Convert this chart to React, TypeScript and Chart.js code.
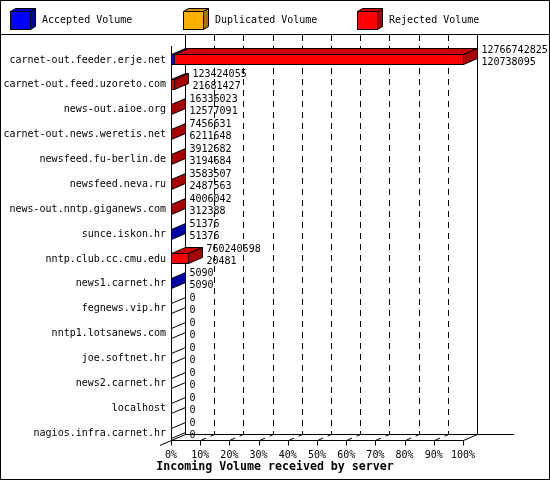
import { useEffect, useRef } from 'react';
import { Chart, registerables } from 'chart.js';

Chart.register(...registerables);

// Incoming volume per feeding server (bytes)
const servers = [
  'carnet-out.feeder.erje.net',
  'carnet-out.feed.uzoreto.com',
  'news-out.aioe.org',
  'carnet-out.news.weretis.net',
  'newsfeed.fu-berlin.de',
  'newsfeed.neva.ru',
  'news-out.nntp.giganews.com',
  'sunce.iskon.hr',
  'nntp.club.cc.cmu.edu',
  'news1.carnet.hr',
  'fegnews.vip.hr',
  'nntp1.lotsanews.com',
  'joe.softnet.hr',
  'news2.carnet.hr',
  'localhost',
  'nagios.infra.carnet.hr',
];

const totalVolume = [
  12766742825, 123424055, 16336023, 7456631, 3912682, 3583507, 4006042, 51376,
  760240698, 5090, 0, 0, 0, 0, 0, 0,
];
const acceptedVolume = [
  120738095, 21681427, 12577091, 6211648, 3194684, 2487563, 312388, 51376,
  20481, 5090, 0, 0, 0, 0, 0, 0,
];
const duplicatedVolume = [0, 0, 0, 0, 0, 0, 0, 0, 0, 0, 0, 0, 0, 0, 0, 0];
const rejectedVolume = [
  12646004730, 101742628, 3758932, 1244983, 717998, 1095944, 3693654, 0,
  760220217, 0, 0, 0, 0, 0, 0, 0,
];

const legendLabels = ['Accepted Volume', 'Duplicated Volume', 'Rejected Volume'];
const seriesColors = ['#0000ff', '#ffb000', '#ff0000'];
const axisTitle = 'Incoming Volume received by server';

const FONT = '"DejaVu Sans Mono", monospace';
const DX = 14;
const DY = -6;

function shade(hex: string, f: number): string {
  const n = parseInt(hex.slice(1), 16);
  const r = Math.round(((n >> 16) & 255) * f);
  const g = Math.round(((n >> 8) & 255) * f);
  const b = Math.round((n & 255) * f);
  return `rgb(${r},${g},${b})`;
}

function line(ctx: CanvasRenderingContext2D, x1: number, y1: number, x2: number, y2: number): void {
  ctx.beginPath();
  ctx.moveTo(x1, y1);
  ctx.lineTo(x2, y2);
  ctx.stroke();
}

function poly(ctx: CanvasRenderingContext2D, pts: number[][], fill: string): void {
  ctx.beginPath();
  ctx.moveTo(pts[0][0], pts[0][1]);
  for (let i = 1; i < pts.length; i++) ctx.lineTo(pts[i][0], pts[i][1]);
  ctx.closePath();
  ctx.fillStyle = fill;
  ctx.fill();
  ctx.stroke();
}

const maxTotal = Math.max(...totalVolume);
const toPct = (arr: number[]) => arr.map(v => (v / maxTotal) * 100);

const frame3d = {
  id: 'frame3d',
  beforeDraw(chart: Chart): void {
    const { ctx, width, height } = chart;
    ctx.save();
    ctx.fillStyle = '#fff';
    ctx.fillRect(0, 0, width, height);
    ctx.strokeStyle = '#000';
    ctx.lineWidth = 1;
    ctx.strokeRect(0.5, 0.5, width - 1, height - 1);
    line(ctx, 0, 34.5, width, 34.5);

    // legend cubes
    const legendX = [10, 183, 357];
    ctx.font = `10px ${FONT}`;
    ctx.textBaseline = 'middle';
    legendLabels.forEach((label, i) => {
      const x0 = legendX[i] + 0.5;
      const y0 = 11.5;
      const w = 20;
      const h = 18;
      const c = seriesColors[i];
      poly(ctx, [[x0, y0], [x0 + w, y0], [x0 + w + 5, y0 - 3], [x0 + 5, y0 - 3]], shade(c, 0.8));
      poly(ctx, [[x0 + w, y0], [x0 + w + 5, y0 - 3], [x0 + w + 5, y0 + h - 3], [x0 + w, y0 + h]], shade(c, 0.66));
      ctx.fillStyle = c;
      ctx.fillRect(x0, y0, w, h);
      ctx.strokeRect(x0, y0, w, h);
      ctx.fillStyle = '#000';
      ctx.textAlign = 'left';
      ctx.fillText(label, legendX[i] + 32, 20);
    });
    ctx.restore();
  },
  beforeDatasetsDraw(chart: Chart): void {
    const { ctx, chartArea } = chart;
    const xs = chart.scales.x;
    const floorY = Math.floor(chartArea.bottom - 5) + 0.5;
    const backFloor = floorY + DY;
    const fx = (p: number) => Math.round(xs.getPixelForValue(p)) + 0.5;
    const left = fx(0);
    const right = fx(100);
    ctx.save();
    ctx.strokeStyle = '#000';
    ctx.lineWidth = 1;

    // back plane dashed grid
    ctx.setLineDash([6, 5]);
    for (let k = 1; k < 10; k++) {
      const bx = fx(k * 10) + DX;
      line(ctx, bx, 35, bx, backFloor);
    }
    // floor grid
    for (let k = 1; k < 10; k++) {
      const x = fx(k * 10);
      line(ctx, x, floorY, x + DX, backFloor);
    }
    ctx.setLineDash([]);

    // walls and floor
    line(ctx, left + DX, 35, left + DX, backFloor);
    line(ctx, right + DX, 35, right + DX, backFloor);
    line(ctx, left + DX, backFloor, 514, backFloor);
    line(ctx, left, floorY, right, floorY);
    line(ctx, right, floorY, right + DX, backFloor);
    line(ctx, left + DX, backFloor, 160, backFloor + ((left + DX - 160) * 6) / 14);
    line(ctx, left, 46, left, floorY + 5);
    for (let k = 1; k <= 10; k++) {
      const x = fx(k * 10);
      line(ctx, x, floorY, x, floorY + 5);
    }
    ctx.restore();
  },
  afterDatasetsDraw(chart: Chart): void {
    const { ctx } = chart;
    const raw = [acceptedVolume, duplicatedVolume, rejectedVolume];
    ctx.save();
    ctx.strokeStyle = '#000';
    ctx.lineWidth = 1;
    servers.forEach((_, i) => {
      let endX = 0;
      let top = 0;
      let bottom = 0;
      let cy = 0;
      let sideColor = '#fff';
      raw.forEach((series, d) => {
        const el = chart.getDatasetMeta(d).data[i] as any;
        const { x, base, y, height } = el.getProps(['x', 'base', 'y', 'height'], true);
        const x1 = Math.round(base) + 0.5;
        const x2 = Math.round(x) + 0.5;
        top = Math.round(y - height / 2) + 0.5;
        bottom = Math.round(y + height / 2) - 0.5;
        cy = y;
        if (d === 0) endX = x1;
        if (series[i] <= 0) return;
        endX = x2;
        sideColor = shade(seriesColors[d], 0.66);
        if (x2 > x1) {
          poly(ctx, [[x1, top], [x2, top], [x2 + DX, top + DY], [x1 + DX, top + DY]], shade(seriesColors[d], 0.8));
          ctx.fillStyle = seriesColors[d];
          ctx.fillRect(x1, top, x2 - x1, bottom - top);
          ctx.strokeRect(x1, top, x2 - x1, bottom - top);
        }
      });
      poly(ctx, [[endX, top], [endX + DX, top + DY], [endX + DX, bottom + DY], [endX, bottom]], sideColor);

      ctx.fillStyle = '#000';
      ctx.font = `10px ${FONT}`;
      ctx.textAlign = 'left';
      ctx.textBaseline = 'middle';
      ctx.fillText(String(totalVolume[i]), endX + DX + 4, cy - 10);
      ctx.fillText(String(acceptedVolume[i]), endX + DX + 4, cy + 2);
    });
    ctx.restore();
  },
  afterDraw(chart: Chart): void {
    const { ctx, width } = chart;
    ctx.save();
    ctx.fillStyle = '#000';
    ctx.font = `bold 11.6px ${FONT}`;
    ctx.textAlign = 'center';
    ctx.textBaseline = 'middle';
    ctx.fillText(axisTitle, width / 2, 467);
    ctx.restore();
  },
};

export default function App(): JSX.Element {
  const canvasRef = useRef<HTMLCanvasElement>(null);
  const chartRef = useRef<Chart | null>(null);

  useEffect(() => {
    document.body.style.margin = '0';
    if (!canvasRef.current) return;
    if (chartRef.current) chartRef.current.destroy();

    chartRef.current = new Chart(canvasRef.current, {
      type: 'bar',
      plugins: [frame3d],
      data: {
        labels: servers,
        datasets: [acceptedVolume, duplicatedVolume, rejectedVolume].map((s, i) => ({
          label: legendLabels[i],
          data: toPct(s),
          backgroundColor: 'rgba(0,0,0,0)',
          borderWidth: 0,
          barThickness: 11,
        })),
      },
      options: {
        indexAxis: 'y',
        responsive: false,
        animation: false,
        events: [],
        layout: { padding: { top: 47.5, right: 87, bottom: 0, left: 0 } },
        plugins: { legend: { display: false }, tooltip: { enabled: false } },
        scales: {
          x: {
            stacked: true,
            min: 0,
            max: 100,
            grid: { display: false, drawTicks: false },
            border: { display: false },
            afterFit: (s: any) => { s.height = 480 - 445.5; },
            ticks: {
              stepSize: 10,
              autoSkip: false,
              maxRotation: 0,
              padding: 4,
              color: '#000',
              font: { family: FONT, size: 10 },
              callback: (v: any) => `${v}%`,
            },
          },
          y: {
            stacked: true,
            grid: { display: false, drawTicks: false },
            border: { display: false },
            afterFit: (s: any) => { s.width = 171; },
            ticks: {
              autoSkip: false,
              padding: 5,
              color: '#000',
              font: { family: FONT, size: 10 },
            },
          },
        },
      },
    });

    return () => { chartRef.current?.destroy(); };
  }, []);

  return (
    <div style={{ width: '550px', height: '480px' }}>
      <canvas ref={canvasRef} width={550} height={480} style={{ display: 'block' }} />
    </div>
  );
}
